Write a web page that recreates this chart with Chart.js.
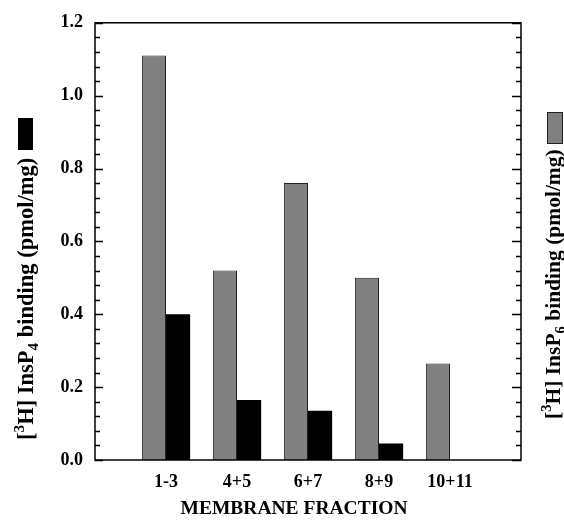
<!DOCTYPE html>
<html>
<head>
<meta charset="utf-8">
<script src="https://cdn.jsdelivr.net/npm/chart.js@4.4.0/dist/chart.umd.min.js"></script>
<style>
  html, body { margin: 0; padding: 0; background: #fff; }
  #wrap { width: 564px; height: 521px; }
</style>
</head>
<body>
<div id="wrap"><canvas id="bindingChart"></canvas></div>
<script>
// membrane fractions (empty slots at both ends leave a gap to the frame)
const fractions = ['', '1-3', '4+5', '6+7', '8+9', '10+11', ''];
const insp6Binding = [null, 1.11, 0.52, 0.76, 0.50, 0.265, null];
const insp4Binding = [null, 0.40, 0.165, 0.135, 0.045, 0, null];
const yTicks = [0, 0.2, 0.4, 0.6, 0.8, 1.0, 1.2];

const serif = '"Liberation Serif", "Times New Roman", serif';

// draws a rotated label with a superscript and a subscript
function drawRotatedLabel(ctx, x, y, parts, size) {
    ctx.save();
    ctx.translate(x, y);
    ctx.rotate(-Math.PI / 2);
    ctx.textBaseline = 'alphabetic';
    ctx.textAlign = 'left';
    ctx.fillStyle = '#000';
    let pos = 0;
    parts.forEach(function(p) {
        let fs = size, dy = 0;
        if (p.sup) { fs = size * 0.68; dy = -size * 0.4; }
        if (p.sub) { fs = size * 0.68; dy = size * 0.22; }
        ctx.font = 'bold ' + fs + 'px ' + serif;
        ctx.fillText(p.t, pos, dy);
        pos += ctx.measureText(p.t).width;
    });
    ctx.restore();
}

const framePlugin = {
    id: 'frame',
    afterDraw(chart) {
        const ctx = chart.ctx;
        const a = chart.chartArea;
        const y = chart.scales.y;

        ctx.save();
        ctx.strokeStyle = '#000';
        ctx.lineWidth = 1.5;
        ctx.strokeRect(a.left, a.top, a.right - a.left, a.bottom - a.top);

        // inward ticks on both sides, minor every 0.04
        ctx.lineWidth = 1.3;
        for (let i = 0; i <= 30; i++) {
            const py = Math.round(y.getPixelForValue(i * 0.04)) + 0.5;
            const major = i % 5 === 0;
            ctx.beginPath();
            ctx.moveTo(a.left, py);
            ctx.lineTo(a.left + (major ? 8 : 5), py);
            ctx.moveTo(a.right, py);
            ctx.lineTo(a.right - (major ? 9 : 5), py);
            ctx.stroke();
        }

        // x axis title
        ctx.fillStyle = '#000';
        ctx.font = 'bold 19.5px ' + serif;
        ctx.textAlign = 'center';
        ctx.textBaseline = 'alphabetic';
        ctx.fillText('MEMBRANE FRACTION', 294, 514);

        // y axis titles with their key boxes
        drawRotatedLabel(ctx, 33, 440, [
            { t: '[' }, { t: '3', sup: true }, { t: 'H] InsP' }, { t: '4', sub: true },
            { t: ' binding (pmol/mg)' }
        ], 22.5);
        ctx.fillStyle = '#000';
        ctx.fillRect(18, 118, 15, 32);

        drawRotatedLabel(ctx, 560, 419, [
            { t: '[' }, { t: '3', sup: true }, { t: 'H] InsP' }, { t: '6', sub: true },
            { t: ' binding (pmol/mg)' }
        ], 21.5);
        ctx.fillStyle = '#808080';
        ctx.fillRect(547, 112, 15, 31);
        ctx.strokeStyle = '#222';
        ctx.lineWidth = 1;
        ctx.strokeRect(547.5, 112.5, 15, 31);
        ctx.restore();
    }
};

new Chart(document.getElementById('bindingChart'), {
    type: 'bar',
    data: {
        labels: fractions,
        datasets: [{
            label: 'InsP6',
            data: insp6Binding,
            backgroundColor: '#808080',
            borderColor: '#222',
            borderWidth: 1,
            barPercentage: 1,
            categoryPercentage: 0.68
        }, {
            label: 'InsP4',
            data: insp4Binding,
            backgroundColor: '#000',
            borderColor: '#000',
            borderWidth: 0,
            barPercentage: 1,
            categoryPercentage: 0.68
        }]
    },
    options: {
        responsive: true,
        maintainAspectRatio: false,
        animation: false,
        layout: { padding: { top: 19, left: 0, right: 0, bottom: 0 } },
        scales: {
            x: {
                offset: false,
                grid: { display: false, drawTicks: false },
                border: { display: false },
                ticks: {
                    color: '#000',
                    padding: 12,
                    maxRotation: 0,
                    autoSkip: false,
                    font: { family: serif, size: 18, weight: 'bold' }
                },
                afterFit(scale) { scale.height = 61; }
            },
            y: {
                min: 0,
                max: 1.2,
                afterBuildTicks(scale) { scale.ticks = yTicks.map(v => ({ value: v })); },
                grid: { display: false, drawTicks: false },
                border: { display: false },
                ticks: {
                    color: '#000',
                    padding: 12,
                    font: { family: serif, size: 18, weight: 'bold' },
                    callback: v => v.toFixed(1)
                },
                afterFit(scale) { scale.width = 95; }
            },
            y2: {
                position: 'right',
                min: 0,
                max: 1.2,
                grid: { display: false, drawTicks: false },
                border: { display: false },
                ticks: { display: false },
                afterFit(scale) { scale.width = 43; }
            }
        },
        plugins: {
            legend: { display: false },
            tooltip: { enabled: false }
        }
    },
    plugins: [framePlugin]
});
</script>
</body>
</html>
